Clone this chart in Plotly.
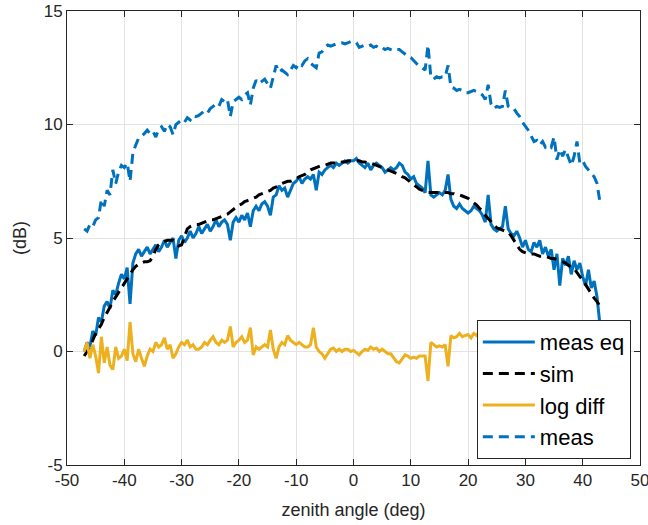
# Gráfica de patrón medido vs simulado en función del ángulo cenital

# ------------------------------- Librerias necesarias -------------------------------
import numpy as np
import plotly.graph_objects as go

# ------------------------------- Datos -------------------------------

# Ángulo cenital (deg), paso de medición de 0.5 grados
angulo = np.arange(-47, 43.01, 0.5)

# Medición ecualizada (dB)
meas_eq = [
    0.0, 0.4, 0.2, 0.9, 0.7, 1.5, 1.3, 2.0, 2.2, 1.9,
    2.7, 2.5, 3.0, 3.4, 3.2, 3.7, 2.1, 3.9, 4.3, 4.5,
    4.2, 4.4, 4.6, 4.3, 4.5, 4.7, 4.4, 4.6, 4.9, 4.6,
    4.8, 5.0, 4.1, 4.9, 5.1, 4.8, 5.0, 5.3, 5.0, 5.2,
    5.5, 5.2, 5.4, 5.6, 5.3, 5.5, 5.8, 5.5, 5.7, 5.8,
    5.6, 4.9, 5.7, 5.9, 5.7, 6.0, 5.8, 6.1, 5.5, 6.2,
    6.4, 6.2, 6.5, 6.6, 6.4, 6.0, 6.8, 6.9, 7.3, 7.1,
    7.2, 6.8, 7.1, 7.4, 7.5, 7.7, 7.4, 7.6, 7.7, 7.6,
    7.8, 7.1, 7.9, 7.8, 8.0, 8.1, 8.2, 8.1, 8.3, 8.2,
    8.3, 8.4, 8.3, 8.4, 8.4, 8.5, 8.3, 8.2, 8.1, 8.3,
    8.0, 8.2, 8.3, 8.2, 8.1, 7.9, 8.0, 8.1, 8.0, 8.1,
    8.3, 8.2, 7.9, 7.8, 7.6, 7.7, 7.4, 7.3, 7.2, 7.0,
    8.4, 6.9, 6.8, 6.9, 7.0, 6.9, 7.1, 7.8, 6.7, 6.4,
    6.3, 6.5, 6.3, 6.2, 6.1, 6.2, 6.4, 6.3, 6.2, 6.0,
    5.7, 6.9, 5.6, 5.4, 5.3, 5.4, 5.5, 6.4, 5.4, 5.2,
    5.1, 5.3, 5.0, 4.6, 4.9, 4.5, 4.4, 4.8, 4.6, 4.9,
    4.3, 4.6, 4.2, 4.5, 3.6, 4.3, 2.9, 4.1, 3.8, 4.2,
    3.4, 4.0, 3.6, 3.9, 3.3, 2.9, 3.6, 2.8, 3.1, 2.4,
    1.2,
]

# Simulación (dB)
sim = [
    -0.2, 0.0, 0.2, 0.5, 0.8, 1.0, 1.2, 1.5, 1.7, 1.95,
    2.2, 2.4, 2.6, 2.85, 3.05, 3.25, 3.4, 3.6, 3.75, 3.85,
    3.9, 3.95, 3.95, 4.0, 4.2, 4.5, 4.7, 4.8, 4.85, 4.9,
    4.9, 4.9, 4.8, 4.65, 4.7, 5.1, 5.4, 5.5, 5.55, 5.6,
    5.6, 5.65, 5.7, 5.75, 5.8, 5.8, 5.85, 5.9, 5.95, 6.0,
    6.05, 6.15, 6.25, 6.35, 6.45, 6.5, 6.6, 6.65, 6.7, 6.75,
    6.8, 6.9, 6.95, 7.0, 7.05, 7.1, 7.2, 7.25, 7.3, 7.4,
    7.45, 7.5, 7.5, 7.55, 7.6, 7.7, 7.75, 7.8, 7.9, 8.0,
    8.05, 8.1, 8.15, 8.2, 8.2, 8.25, 8.3, 8.3, 8.3, 8.3,
    8.35, 8.35, 8.4, 8.4, 8.4, 8.4, 8.4, 8.35, 8.35, 8.3,
    8.3, 8.25, 8.2, 8.15, 8.1, 8.05, 8.0, 7.95, 7.9, 7.85,
    7.8, 7.7, 7.65, 7.55, 7.45, 7.35, 7.25, 7.15, 7.1, 7.05,
    7.0, 7.0, 7.0, 7.0, 7.0, 7.0, 7.0, 7.0, 6.95, 6.95,
    6.9, 6.9, 6.85, 6.8, 6.75, 6.65, 6.55, 6.45, 6.3, 6.2,
    6.0, 5.85, 5.7, 5.55, 5.45, 5.4, 5.35, 5.3, 5.25, 5.1,
    4.9, 4.7, 4.5, 4.4, 4.35, 4.3, 4.3, 4.3, 4.25, 4.2,
    4.2, 4.2, 4.15, 4.1, 4.1, 4.05, 4.0, 3.95, 3.9, 3.8,
    3.7, 3.65, 3.45, 3.3, 3.15, 2.95, 2.7, 2.5, 2.35, 2.2,
    2.0,
]

# Diferencia logarítmica (dB)
log_diff = [
    0.0, 0.4, -0.3, 0.3, -0.2, -0.95, 0.65, -0.5, 0.2, -0.6,
    -0.8, 0.2, -0.3, -0.2, 0.1, -0.4, 1.3, -0.1, -0.45, 0.1,
    -0.3, -0.65, -0.2, 0.1, 0.0, 0.4, 0.2, 0.3, 0.6, 0.1,
    0.3, -0.3, -0.1, 0.2, 0.4, 0.3, 0.5, 0.2, 0.3, 0.1,
    0.1, 0.2, 0.4, 0.3, 0.5, 0.65, 0.4, 0.3, 0.5, 0.4,
    0.5, 1.1, 0.2, 0.4, 0.5, 0.65, 0.4, 0.5, 1.05, -0.15,
    0.2, 0.1, 0.2, 0.3, 0.2, 0.95, 0.1, -0.3, 0.2, 0.4,
    0.3, 0.7, 0.5, 0.4, 0.3, 0.4, 0.3, 0.2, 0.2, 0.3,
    1.05, 0.2, 0.0, -0.1, -0.3, -0.1, 0.1, 0.15, 0.0, 0.1,
    0.0, 0.1, 0.1, 0.0, 0.05, -0.05, -0.15, 0.0, 0.1, 0.05,
    0.2, 0.1, 0.15, 0.0, 0.1, 0.0, -0.1, -0.1, -0.3, -0.45,
    -0.5, -0.3, -0.15, -0.2, -0.3, -0.25, -0.3, -0.2, -0.2, -0.2,
    -1.3, 0.4, 0.3, 0.2, 0.25, 0.2, 0.3, -0.65, 0.7, 0.6,
    0.65, 0.8, 0.65, 0.7, 0.75, 0.6, 0.8, 0.7, 0.9, 0.6,
    0.7, 0.5, 0.8, 0.6, 0.5, 0.4, 0.6, 0.9, 0.5, 0.3,
    0.4, 0.6, 0.3, 0.5, 0.4, 0.3, 0.2, 0.5, 0.3, 0.6,
    0.2, 0.4, 0.1, 0.3, -0.2, 0.3, -0.6, 0.2, 0.0, 0.4,
    -0.2, 0.3, 0.1, 0.5, 0.1, -0.1, 0.6, 0.2, 0.7, 0.1,
    -0.8,
]

# Medición sin ecualizar (dB)
meas = [
    5.4, 5.3, 5.6, 5.5, 5.8, 5.9, 6.7, 6.4, 7.1, 6.9,
    8.0, 7.4, 7.9, 8.2, 8.1, 8.3, 7.5, 8.75, 9.1, 9.4,
    9.5, 9.6, 9.75, 9.6, 9.7, 9.45, 9.8, 9.9, 9.7, 10.0,
    9.9, 9.55, 10.0, 10.1, 10.2, 10.1, 10.3, 10.2, 10.4, 10.35,
    10.4, 10.5, 10.6, 10.5, 10.7, 10.8, 10.9, 10.8, 11.1, 11.0,
    11.1, 10.35, 11.0, 11.1, 11.2, 11.1, 11.3, 11.4, 10.85, 11.6,
    11.95, 11.8, 11.9, 12.0, 11.8, 11.6, 12.1, 12.6, 12.3, 12.4,
    12.3, 12.2, 12.4, 12.6, 12.5, 12.7, 12.6, 12.8, 12.9, 12.7,
    12.6, 12.5, 13.15, 13.2, 13.4, 13.5, 13.45, 13.5, 13.55, 13.6,
    13.6, 13.55, 13.6, 13.65, 13.65, 13.6, 13.4, 13.45, 13.5, 13.45,
    13.5, 13.4, 13.45, 13.35, 13.4, 13.3, 13.35, 13.3, 13.25, 13.3,
    13.3, 13.2, 13.1, 13.0, 12.95, 12.8, 12.7, 12.55, 12.5, 12.4,
    13.5, 12.1, 12.0, 12.1, 12.05, 12.1, 12.1, 12.6, 11.65, 11.6,
    11.5, 11.55, 11.5, 11.4, 11.4, 11.45, 11.5, 11.45, 11.4, 11.3,
    11.1, 11.75, 10.9, 10.7, 10.8, 10.75, 10.8, 11.5, 10.8, 10.7,
    10.7, 10.5, 10.35, 10.1, 9.95, 9.75, 9.5, 9.25, 9.3, 9.1,
    9.25, 9.0, 9.1, 9.0, 9.45, 8.45, 8.9, 8.6, 8.9, 8.5,
    8.2, 8.6, 9.25, 8.3, 8.4, 8.15, 8.0, 7.9, 7.7, 7.4,
    6.6,
]

# Ticks de los ejes
x_ticks = [-50, -40, -30, -20, -10, 0, 10, 20, 30, 40, 50]
x_tick_labels = ["-50", "-40", "-30", "-20", "-10", "0", "10", "20", "30", "40", "50"]
y_ticks = [-5, 0, 5, 10, 15]
y_tick_labels = ["-5", "0", "5", "10", "15"]

for serie in (meas_eq, sim, log_diff, meas):
    assert len(serie) == len(angulo)

# ------------------------------- Gráfica -------------------------------

azul = "#0072BD"
amarillo = "#EDB120"
eje = "#262626"
fuente = "Liberation Sans, Arial, Helvetica, sans-serif"

fig = go.Figure()

fig.add_trace(go.Scatter(x = angulo, y = meas_eq, name = "meas eq", mode = "lines",
                         line = dict(color = azul, width = 3)))
fig.add_trace(go.Scatter(x = angulo, y = sim, name = "sim", mode = "lines",
                         line = dict(color = "black", width = 3, dash = "10px,6px")))
fig.add_trace(go.Scatter(x = angulo, y = log_diff, name = "log diff", mode = "lines",
                         line = dict(color = amarillo, width = 3)))
fig.add_trace(go.Scatter(x = angulo, y = meas, name = "meas", mode = "lines",
                         line = dict(color = azul, width = 3, dash = "10px,6px")))

ejes = dict(showline = True, linecolor = eje, linewidth = 1, mirror = "ticks",
            ticks = "inside", ticklen = 6, tickcolor = eje, automargin = False,
            ticklabeloverflow = "allow",
            showgrid = True, gridcolor = "#e3e3e3", gridwidth = 1,
            zeroline = False, tickfont = dict(size = 17, color = eje))

fig.update_xaxes(range = [-50, 50], tickvals = x_ticks, ticktext = x_tick_labels,
                 title = dict(text = "zenith angle (deg)", font = dict(size = 18, color = eje), standoff = 13),
                 **ejes)
fig.update_yaxes(range = [-5, 15], tickvals = y_ticks, ticktext = y_tick_labels,
                 title = dict(text = "(dB)", font = dict(size = 18, color = eje), standoff = 12),
                 **ejes)

fig.update_layout(
    width = 648, height = 525,
    margin = dict(l = 67, r = 8, t = 11, b = 60, autoexpand = False),
    paper_bgcolor = "white", plot_bgcolor = "white",
    font = dict(family = fuente, color = eje),
    showlegend = True,
    legend = dict(x = 0.984, y = 0.013, xanchor = "right", yanchor = "bottom",
                  bgcolor = "white", bordercolor = eje, borderwidth = 1,
                  itemwidth = 52,
                  font = dict(size = 22, color = "black"), tracegroupgap = 0))

# Quitar el margen del body para que la figura ocupe toda la ventana
fig.write_html("out.html", config = {"displayModeBar": False},
               post_script = "document.body.style.margin = '0';")
